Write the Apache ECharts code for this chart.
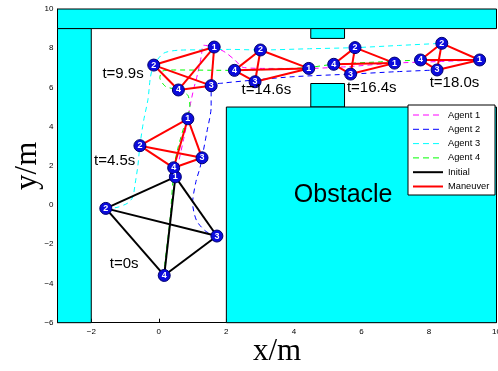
<!DOCTYPE html>
<html><head><meta charset="utf-8">
<script src="https://cdn.jsdelivr.net/npm/echarts@6/dist/echarts.min.js"></script>
<style>html,body{margin:0;padding:0;background:#fff}#c{width:498px;height:371px}</style>
</head><body><div id="c"></div>
<script>
// ---- data ----
const xTicks = [-2, 0, 2, 4, 6, 8, 10];
const yTicks = [-6, -4, -2, 0, 2, 4, 6, 8, 10];
// obstacles: [x0, y0, x1, y1]
const obstacles = [
  [-3, 9, 10, 10],
  [-3, -6, -2, 9],
  [4.5, 8.5, 5.5, 9],
  [4.5, 5, 5.5, 6.2],
  [2, -6, 10, 5]
];
// formations: node 1..4 positions
const formationT0   = [[0.49, 1.44], [-1.57, -0.17], [1.72, -1.58], [0.16, -3.59]];
const formationT4_5 = [[0.86, 4.40], [-0.56, 3.03], [1.28, 2.41], [0.44, 1.90]];
const formationT9_9 = [[1.64, 8.06], [-0.15, 7.14], [1.55, 6.09], [0.58, 5.87]];
const formationT14_6 = [[4.44, 6.97], [3.01, 7.91], [2.85, 6.29], [2.24, 6.87]];
const formationT16_4 = [[6.98, 7.24], [5.81, 8.03], [5.68, 6.68], [5.18, 7.18]];
const formationT18_0 = [[9.50, 7.40], [8.38, 8.25], [8.24, 6.89], [7.75, 7.40]];
const edgePairs = [[0, 1], [0, 2], [0, 3], [1, 2], [1, 3], [2, 3]];
// agent trajectories
const agent1Path = [[0.49,1.44],[0.6,2.3],[0.74,3.4],[0.86,4.4],[0.93,5.1],[1.03,5.9],[1.15,6.7],[1.26,7.6],[1.32,8.15],[1.64,8.06],[1.96,7.8],[2.25,7.4],[2.5,7.02],[3.2,6.97],[4.44,6.97],[5.6,7.06],[6.98,7.24],[8.3,7.32],[9.5,7.4]];
const agent2Path = [[1.72,-1.58],[1.4,-1.35],[1.12,-0.8],[1.0,0.1],[1.1,1.2],[1.22,1.9],[1.28,2.41],[1.42,3.7],[1.55,5.0],[1.55,6.09],[1.9,6.22],[2.85,6.38],[4.0,6.55],[5.68,6.68],[7.0,6.8],[8.24,6.89]];
const agent3Path = [[-1.57,-0.17],[-1.24,-0.12],[-0.92,0.1],[-0.77,0.41],[-0.7,1.1],[-0.62,2.0],[-0.56,3.03],[-0.45,4.3],[-0.32,5.4],[-0.25,6.5],[-0.15,7.14],[0.15,7.75],[0.6,7.9],[1.42,7.92],[2.1,7.94],[3.01,7.91],[4.4,7.97],[5.81,8.03],[7.1,8.14],[8.38,8.25]];
const agent4Path = [[0.16,-3.59],[0.18,-2.96],[0.33,-0.77],[0.41,1.12],[0.44,1.9],[0.58,3.0],[0.78,4.2],[0.92,5.0],[0.86,5.6],[0.58,5.87],[0.2,6.05],[0.03,6.5],[0.12,6.84],[0.5,6.89],[2.24,6.87],[3.4,6.93],[4.44,7.02],[5.18,7.18],[6.5,7.3],[7.75,7.40]];
// time labels: [x, y, text] (left edge, vertical centre)
const timeLabels = [
  [-1.45, -3.01, 't=0s'],
  [-1.92, 2.24, 't=4.5s'],
  [-1.67, 6.68, 't=9.9s'],
  [2.45, 5.87, 't=14.6s'],
  [5.57, 5.99, 't=16.4s'],
  [8.02, 6.22, 't=18.0s']
];
const obstacleLabel = [[5.46, 0.51, 'Obstacle']];
const legendNames = ['Agent 1', 'Agent 2', 'Agent 3', 'Agent 4', 'Initial', 'Maneuver'];

// ---- build ----
function edges(f) {
  return edgePairs.map(p => ({ coords: [f[p[0]], f[p[1]]] }));
}
const maneuverForms = [formationT4_5, formationT9_9, formationT14_6, formationT16_4, formationT18_0];
let maneuverEdges = [];
maneuverForms.forEach(f => { maneuverEdges = maneuverEdges.concat(edges(f)); });
const allForms = [formationT0].concat(maneuverForms);
const nodeData = [];
allForms.forEach(f => f.forEach((p, i) => nodeData.push([p[0], p[1], i + 1])));

const minus = v => String(v).replace('-', '\u2212');
const FONT = 'Liberation Sans, Arial, Helvetica, sans-serif';
const agentColors = ['#ff00ff', '#0000ff', '#00ffff', '#00ff00'];
const agentPaths = [agent1Path, agent2Path, agent3Path, agent4Path];

const series = [];
series.push({
  type: 'custom', name: 'obstacles', z: 1, silent: true,
  data: obstacles,
  encode: { x: [0, 2], y: [1, 3] },
  renderItem: function (params, api) {
    const p0 = api.coord([api.value(0), api.value(3)]);
    const p1 = api.coord([api.value(2), api.value(1)]);
    return { type: 'rect',
      shape: { x: p0[0], y: p0[1], width: p1[0] - p0[0], height: p1[1] - p0[1] },
      style: { fill: '#00ffff', stroke: '#000', lineWidth: 1 } };
  }
});
agentPaths.forEach((path, i) => {
  series.push({
    type: 'line', name: legendNames[i], z: 2, data: path, showSymbol: false, symbol: 'none',
    smooth: 0.25, silent: true,
    lineStyle: { color: agentColors[i], width: 1, type: [5, 4] }
  });
});
series.push({
  type: 'lines', name: 'Initial', coordinateSystem: 'cartesian2d', z: 3, silent: true,
  data: edges(formationT0),
  lineStyle: { color: '#000', width: 2, opacity: 1 }
});
series.push({
  type: 'lines', name: 'Maneuver', coordinateSystem: 'cartesian2d', z: 3, silent: true,
  data: maneuverEdges,
  lineStyle: { color: '#ff0000', width: 2, opacity: 1 }
});
series.push({
  type: 'scatter', name: 'nodes', z: 4, data: nodeData, symbolSize: 12, silent: true,
  itemStyle: { color: '#0b0bdc', borderColor: '#000070', borderWidth: 1, opacity: 1 },
  label: { show: true, position: 'inside', formatter: p => p.value[2],
    color: '#fff', fontSize: 9, fontWeight: 'bold', fontFamily: FONT }
});
series.push({
  type: 'scatter', name: 'timeLabels', z: 5, data: timeLabels, symbolSize: 0, silent: true,
  itemStyle: { opacity: 1 },
  label: { show: true, position: 'right', distance: 0, formatter: p => p.value[2],
    color: '#000', opacity: 1, fontSize: 15, fontFamily: FONT }
});
series.push({
  type: 'scatter', name: 'obstacleLabel', z: 5, data: obstacleLabel, symbolSize: 0, silent: true,
  itemStyle: { opacity: 1 },
  label: { show: true, position: 'inside', formatter: p => p.value[2],
    color: '#000', opacity: 1, fontSize: 25, fontFamily: FONT }
});

// legend via graphic
const lgLeft = 408, lgTop = 105, lgW = 87, lgH = 90, rowH = 14.3, row0 = 10;
const lgChildren = [{ type: 'rect', z: 100, shape: { x: 0, y: 0, width: lgW, height: lgH },
  style: { fill: '#fff', stroke: '#000', lineWidth: 1 } }];
const lgColors = agentColors.concat(['#000', '#ff0000']);
legendNames.forEach((n, i) => {
  const y = row0 + i * rowH;
  const dashed = i < 4;
  lgChildren.push({ type: 'line', z: 101, shape: { x1: 5, y1: y, x2: 35, y2: y },
    style: { stroke: lgColors[i], lineWidth: dashed ? 1 : 2, lineDash: dashed ? [6, 4] : null } });
  lgChildren.push({ type: 'text', z: 101, x: 40, y: y,
    style: { text: n, fill: '#000', font: '9.3px ' + FONT, verticalAlign: 'middle', align: 'left' } });
});

const option = {
  animation: false,
  backgroundColor: '#fff',
  grid: { left: 57.5, right: 1.5, top: 9, bottom: 48.3, containLabel: false, outerBoundsMode: 'none' },
  xAxis: {
    type: 'value', min: -3, max: 10,
    name: 'x/m', nameLocation: 'middle', nameGap: 14, nameMoveOverlap: false,
    nameTextStyle: { fontFamily: 'Liberation Serif, Times New Roman, serif', fontSize: 31, color: '#000' },
    axisLine: { show: true, onZero: false, lineStyle: { color: '#000', width: 1 } },
    axisTick: { show: true, inside: true, length: 4, customValues: xTicks, lineStyle: { color: '#000' } },
    axisLabel: { customValues: xTicks, formatter: minus, fontSize: 8, color: '#000', margin: 5, fontFamily: FONT },
    splitLine: { show: false }
  },
  yAxis: {
    type: 'value', min: -6, max: 10, interval: 2,
    name: 'y/m', nameLocation: 'middle', nameGap: 14, nameRotate: 90, nameMoveOverlap: false,
    nameTextStyle: { fontFamily: 'Liberation Serif, Times New Roman, serif', fontSize: 31, color: '#000' },
    axisLine: { show: true, onZero: false, lineStyle: { color: '#000', width: 1 } },
    axisTick: { show: true, inside: true, length: 4, lineStyle: { color: '#000' } },
    axisLabel: { formatter: minus, fontSize: 8, color: '#000', margin: 4, fontFamily: FONT },
    splitLine: { show: false }
  },
  graphic: [{ type: 'group', x: lgLeft, y: lgTop, z: 100, children: lgChildren }],
  series: series
};
const chart = echarts.init(document.getElementById('c'), null, { renderer: 'canvas' });
chart.setOption(option);
</script>
</body></html>
